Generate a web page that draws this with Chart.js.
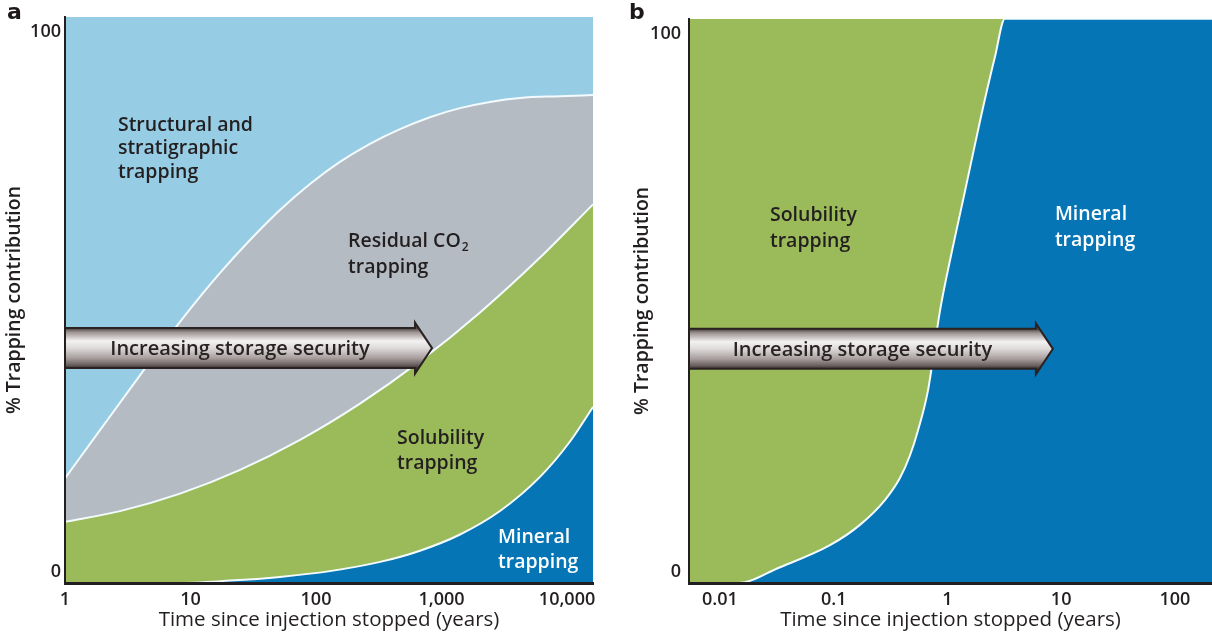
<!DOCTYPE html>
<html>
<head>
<meta charset="utf-8">
<script src="https://cdn.jsdelivr.net/npm/chart.js@4/dist/chart.umd.min.js"></script>
<style>
  html, body { margin: 0; padding: 0; background: #fff; width: 1212px; height: 634px; overflow: hidden; }
  .panel { position: absolute; top: 0; }
  #wrapA { left: 0; }
  #wrapB { left: 628px; }
  .letter { position: absolute; top: 1px; font: bold 22px "DejaVu Sans", sans-serif; color: #1c1819; line-height: 22px; }
</style>
</head>
<body>
<div class="panel" id="wrapA"><canvas id="chartA" width="606" height="634"></canvas></div>
<div class="panel" id="wrapB"><canvas id="chartB" width="584" height="634"></canvas></div>
<div class="letter" style="left:7px">a</div>
<div class="letter" style="left:629px">b</div>
<script>
// ---- shared axis values ----
const yTickValues = [0, 100];

// ---- panel a: trapping over 1 to 10,000 years ----
const aTickValues = [1, 10, 100, 1000, 10000];
const aTickLabels = ['1', '10', '100', '1,000', '10,000'];
// upper edge of mineral trapping (cumulative %)
const aMineralYears = [1, 7.52, 20.6, 51.6, 129, 324, 674, 1404, 2923, 6090, 10560, 16100];
const aMineralTop   = [0, 0, 0.43, 1.08, 2.10, 3.73, 5.71, 8.57, 12.72, 18.75, 25.0, 31.1];
// upper edge of solubility trapping
const aSolubilityYears = [1, 2.74, 8.25, 24.8, 74.6, 224, 674, 2027, 6094, 16100];
const aSolubilityTop   = [10.8, 12.7, 15.8, 20.0, 25.3, 31.7, 39.2, 47.8, 57.5, 66.9];
// upper edge of residual CO2 trapping
const aResidualYears = [1, 1.90, 3.30, 5.71, 9.91, 17.2, 29.8, 51.6, 89.5, 155, 269, 467, 809, 1403, 2432, 4218, 8790, 16100];
const aResidualTop   = [18.5, 27.0, 34.3, 41.5, 48.4, 54.8, 60.6, 65.9, 70.5, 74.4, 77.6, 80.2, 82.3, 83.9, 85.0, 85.7, 86.0, 86.2];
// structural and stratigraphic trapping fills the rest
const aStructuralYears = [1, 16100];
const aStructuralTop   = [100, 100];

// ---- panel b: trapping over 0.01 to 100 years ----
const bTickValues = [0.01, 0.1, 1, 10, 100];
const bTickLabels = ['0.01', '0.1', '1', '10', '100'];
const bMineralYears = [0.00534, 0.0144, 0.0337, 0.0927, 0.170, 0.282, 0.382, 0.468, 0.550, 0.674, 0.859, 1.095, 1.425, 1.93, 2.62, 3.20, 212];
const bMineralTop   = [0, 0, 2.8, 6.7, 10.3, 14.7, 18.6, 22.6, 27.0, 34.1, 48.2, 58.8, 69.4, 81.8, 93.3, 100, 100];
const bSolubilityYears = [0.00534, 212];
const bSolubilityTop   = [100, 100];

// ---- colours ----
const C = {
  structural: '#96cde5',
  residual: '#b4bbc2',
  solubility: '#9bbb5a',
  mineral: '#0675b6',
  edge: '#f4fbff',
  ink: '#231f20'
};
const FONT = '"Open Sans", sans-serif';

const toPoints = (xs, ys) => xs.map((v, i) => ({ x: v, y: ys[i] }));

function layer(label, xs, ys, color, fill, edge) {
  return {
    label,
    data: toPoints(xs, ys),
    backgroundColor: color,
    borderColor: edge ? C.edge : 'rgba(0,0,0,0)',
    borderWidth: edge ? 2 : 0,
    fill,
    pointRadius: 0,
    cubicInterpolationMode: 'monotone',
    clip: 0
  };
}

// arrow and in-area labels
const panelDecor = {
  id: 'panelDecor',
  afterDatasetsDraw(chart, args, opts) {
    const { ctx, chartArea: ca, scales } = chart;
    const x = scales.x, y = scales.y;
    ctx.save();
    // "Increasing storage security" arrow
    const yc = y.getPixelForValue(opts.arrowLevel);
    const tip = x.getPixelForValue(opts.arrowReach);
    const left = ca.left;
    const half = 20, headHalf = 25.5, depth = 17;
    const base = tip - depth;
    const g = ctx.createLinearGradient(0, yc - half, 0, yc + half);
    g.addColorStop(0, '#4a3f3f');
    g.addColorStop(0.1, '#9c9191');
    g.addColorStop(0.32, '#f3f1f1');
    g.addColorStop(0.5, '#dedada');
    g.addColorStop(0.75, '#a89e9e');
    g.addColorStop(0.92, '#6a5e5e');
    g.addColorStop(1, '#3a3030');
    const outline = () => {
      ctx.moveTo(left, yc - half);
      ctx.lineTo(base, yc - half);
      ctx.lineTo(base, yc - headHalf);
      ctx.lineTo(tip, yc);
      ctx.lineTo(base, yc + headHalf);
      ctx.lineTo(base, yc + half);
      ctx.lineTo(left, yc + half);
    };
    ctx.beginPath(); outline(); ctx.closePath();
    ctx.fillStyle = g; ctx.fill();
    ctx.beginPath(); outline();
    ctx.strokeStyle = '#2a2222'; ctx.lineWidth = 2; ctx.lineJoin = 'miter'; ctx.stroke();
    ctx.fillStyle = '#2a2323';
    ctx.font = '600 20px ' + FONT;
    ctx.textAlign = 'center'; ctx.textBaseline = 'middle';
    ctx.fillText('Increasing storage security', (left + base) / 2, yc + 1);

    // region names
    ctx.textAlign = 'left';
    for (const lab of opts.labels) {
      const px = x.getPixelForValue(lab.at[0]);
      const py = y.getPixelForValue(lab.at[1]);
      ctx.fillStyle = lab.color;
      lab.lines.forEach((line, i) => {
        const ly = py + i * lab.gap;
        ctx.font = '600 19.5px ' + FONT;
        ctx.fillText(line.text, px, ly);
        if (line.sub) {
          const w = ctx.measureText(line.text).width;
          ctx.font = '600 12px ' + FONT;
          ctx.fillText(line.sub, px + w + 1, ly + 6);
        }
      });
    }
    ctx.restore();
  }
};

function buildScales(xMin, xMax, ticks, labels, yAxisWidth, yTickPad) {
  return {
    x: {
      type: 'logarithmic',
      min: xMin, max: xMax,
      afterBuildTicks: s => { s.ticks = ticks.map(v => ({ value: v })); },
      ticks: { callback: (v, i) => labels[i], color: C.ink, font: { family: FONT, size: 18, weight: 600 }, padding: 6, maxRotation: 0, autoSkip: false },
      grid: { display: false, drawTicks: false },
      border: { display: true, color: C.ink, width: 3, z: 1 },
      title: { display: true, text: 'Time since injection stopped (years)', color: C.ink, font: { family: FONT, size: 20.5, weight: 500 }, padding: { top: 0, bottom: 2 } },
      afterFit: s => { s.height = 51; }
    },
    y: {
      type: 'linear', position: 'left', min: 0, max: 100, weight: 0,
      ticks: { display: false },
      grid: { display: false, drawTicks: false },
      border: { display: true, color: C.ink, width: 2, z: 1 },
      afterFit: s => { s.width = 0; }
    },
    yLabels: {
      type: 'linear', position: 'left', min: -2.04, max: 102.78, weight: 1,
      afterBuildTicks: s => { s.ticks = yTickValues.map(v => ({ value: v })); },
      ticks: { color: C.ink, font: { family: FONT, size: 18, weight: 600 }, padding: yTickPad },
      grid: { display: false, drawTicks: false },
      border: { display: false },
      title: { display: true, text: '% Trapping contribution', color: C.ink, font: { family: FONT, size: 19.5, weight: 600 }, padding: { top: 3, bottom: 0 } },
      afterFit: s => { s.width = yAxisWidth; }
    }
  };
}

const common = {
  responsive: false,
  animation: false,
  devicePixelRatio: 1,
  events: []
};

new Chart(document.getElementById('chartA'), {
  type: 'line',
  data: {
    datasets: [
      layer('Mineral trapping', aMineralYears, aMineralTop, C.mineral, 'origin', true),
      layer('Solubility trapping', aSolubilityYears, aSolubilityTop, C.solubility, '-1', true),
      layer('Residual CO2 trapping', aResidualYears, aResidualTop, C.residual, '-1', true),
      layer('Structural and stratigraphic trapping', aStructuralYears, aStructuralTop, C.structural, '-1', false)
    ]
  },
  options: Object.assign({}, common, {
    layout: { padding: { top: 17, right: 13, left: 0, bottom: 0 } },
    scales: buildScales(1, 16100, aTickValues, aTickLabels, 65, 4),
    plugins: {
      legend: { display: false }, tooltip: { enabled: false },
      panelDecor: {
        arrowLevel: 41.5, arrowReach: 840,
        labels: [
          { lines: [{ text: 'Structural and' }, { text: 'stratigraphic' }, { text: 'trapping' }], at: [2.64, 80.9], gap: 23.5, color: C.ink },
          { lines: [{ text: 'Residual CO', sub: '2' }, { text: 'trapping' }], at: [180, 60.4], gap: 26, color: C.ink },
          { lines: [{ text: 'Solubility' }, { text: 'trapping' }], at: [442, 25.6], gap: 25, color: C.ink },
          { lines: [{ text: 'Mineral' }, { text: 'trapping' }], at: [2820, 8.0], gap: 25, color: '#ffffff' }
        ]
      }
    }
  }),
  plugins: [panelDecor]
});

new Chart(document.getElementById('chartB'), {
  type: 'line',
  data: {
    datasets: [
      layer('Mineral trapping', bMineralYears, bMineralTop, C.mineral, 'origin', true),
      layer('Solubility trapping', bSolubilityYears, bSolubilityTop, C.solubility, '-1', false)
    ]
  },
  options: Object.assign({}, common, {
    layout: { padding: { top: 17, right: 0, left: 0, bottom: 0 } },
    scales: buildScales(0.00534, 212, bTickValues, bTickLabels, 61, 8),
    plugins: {
      legend: { display: false }, tooltip: { enabled: false },
      panelDecor: {
        arrowLevel: 41.5, arrowReach: 8.46,
        labels: [
          { lines: [{ text: 'Solubility' }, { text: 'trapping' }], at: [0.0275, 65.2], gap: 26, color: C.ink },
          { lines: [{ text: 'Mineral' }, { text: 'trapping' }], at: [8.81, 65.4], gap: 26, color: '#ffffff' }
        ]
      }
    }
  }),
  plugins: [panelDecor]
});
</script>
</body>
</html>
